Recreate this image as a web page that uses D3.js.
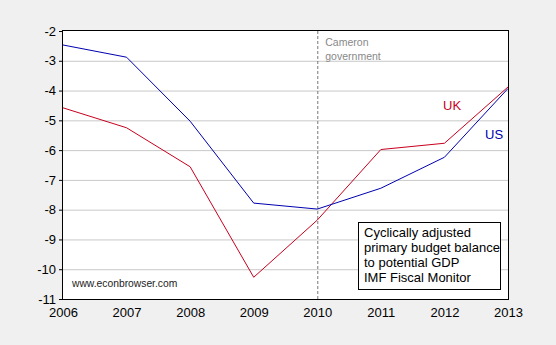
<!DOCTYPE html>
<html>
<head>
<meta charset="utf-8">
<script src="https://cdn.jsdelivr.net/npm/d3@7"></script>
<style>
  body { margin: 0; background: #f0f0f0; }
  svg { display: block; font-family: Arial, "Liberation Sans", sans-serif; }
</style>
</head>
<body>
<svg id="chart" width="556" height="345"></svg>
<script>
    var years = [2006, 2007, 2008, 2009, 2010, 2011, 2012, 2013];
    var usBalance = [-2.47, -2.88, -5.03, -7.78, -7.98, -7.28, -6.24, -3.93];
    var ukBalance = [-4.58, -5.25, -6.56, -10.27, -8.35, -5.98, -5.77, -3.88];
    var yTicks = [-2, -3, -4, -5, -6, -7, -8, -9, -10, -11];
    var noteLines = ['Cyclically adjusted', 'primary budget balance', 'to potential GDP', 'IMF Fiscal Monitor'];

    var svg = d3.select('#chart'),
        margin = {left: 63, right: 48, top: 31, bottom: 46},
        width = 556 - margin.left - margin.right,
        height = 345 - margin.top - margin.bottom;

    var x = d3.scaleLinear().domain([2006, 2013]).range([0, width]);
    var y = d3.scaleLinear().domain([-11, -2]).range([height, 0]);

    var g = svg.append('g').attr('transform', 'translate(' + margin.left + ',' + margin.top + ')');

    g.append('rect').attr('width', width).attr('height', height).attr('fill', '#fff');

    // horizontal grid
    g.selectAll('.grid').data(yTicks.slice(1, -1)).enter().append('line')
        .attr('x1', 0).attr('x2', width)
        .attr('y1', function (d) { return y(d) + 0.5; })
        .attr('y2', function (d) { return y(d) + 0.5; })
        .attr('stroke', '#c8c8c8');

    // Cameron marker
    g.append('line')
        .attr('x1', x(2010) + 0.5).attr('x2', x(2010) + 0.5)
        .attr('y1', 0).attr('y2', height)
        .attr('stroke', '#777').attr('stroke-dasharray', '3,2');
    g.append('text').attr('x', x(2010) + 8).attr('y', 15)
        .attr('font-size', 10.5).attr('fill', '#888')
        .selectAll('tspan').data(['Cameron', 'government']).enter().append('tspan')
        .attr('x', x(2010) + 8).attr('dy', function (d, i) { return i ? 13.5 : 0; })
        .text(function (d) { return d; });

    var line = d3.line()
        .x(function (d, i) { return x(years[i]); })
        .y(function (d) { return y(d); });

    g.append('path').datum(ukBalance).attr('d', line)
        .attr('fill', 'none').attr('stroke', '#c8001e').attr('stroke-width', 1);
    g.append('path').datum(usBalance).attr('d', line)
        .attr('fill', 'none').attr('stroke', '#0000b0').attr('stroke-width', 1);

    g.append('text').attr('x', 380).attr('y', 79).attr('font-size', 13)
        .attr('fill', '#c8001e').text('UK');
    g.append('text').attr('x', 422).attr('y', 108).attr('font-size', 13)
        .attr('fill', '#0000b0').text('US');

    // note box
    g.append('rect').attr('x', 295.5).attr('y', 191.5).attr('width', 142).attr('height', 67)
        .attr('fill', '#fff').attr('stroke', '#000');
    g.append('text').attr('font-size', 13).attr('fill', '#000')
        .selectAll('tspan').data(noteLines).enter().append('tspan')
        .attr('x', 301).attr('y', function (d, i) { return 206 + i * 15; })
        .text(function (d) { return d; });

    g.append('text').attr('x', 9).attr('y', 256).attr('font-size', 10.3)
        .attr('fill', '#222').text('www.econbrowser.com');

    // frame
    g.append('rect').attr('x', -0.5).attr('y', -0.5).attr('width', width + 1).attr('height', height + 1)
        .attr('fill', 'none').attr('stroke', '#000');

    var xAxis = g.append('g').attr('transform', 'translate(0,' + height + ')')
        .call(d3.axisBottom(x).tickValues(years).tickFormat(d3.format('d')).tickSize(0).tickPadding(9));
    var yAxis = g.append('g')
        .call(d3.axisLeft(y).tickValues(yTicks).tickFormat(d3.format('d')).tickSize(4).tickPadding(3));
    [xAxis, yAxis].forEach(function (a) {
        a.select('.domain').remove();
        a.selectAll('text').attr('font-size', 13).attr('fill', '#000').attr('font-family', 'Arial, "Liberation Sans", sans-serif');
        a.selectAll('line').attr('stroke', '#000');
    });
    yAxis.selectAll('text').text(function (d) { return d < 0 ? '-' + Math.abs(d) : d; });
</script>
</body>
</html>
